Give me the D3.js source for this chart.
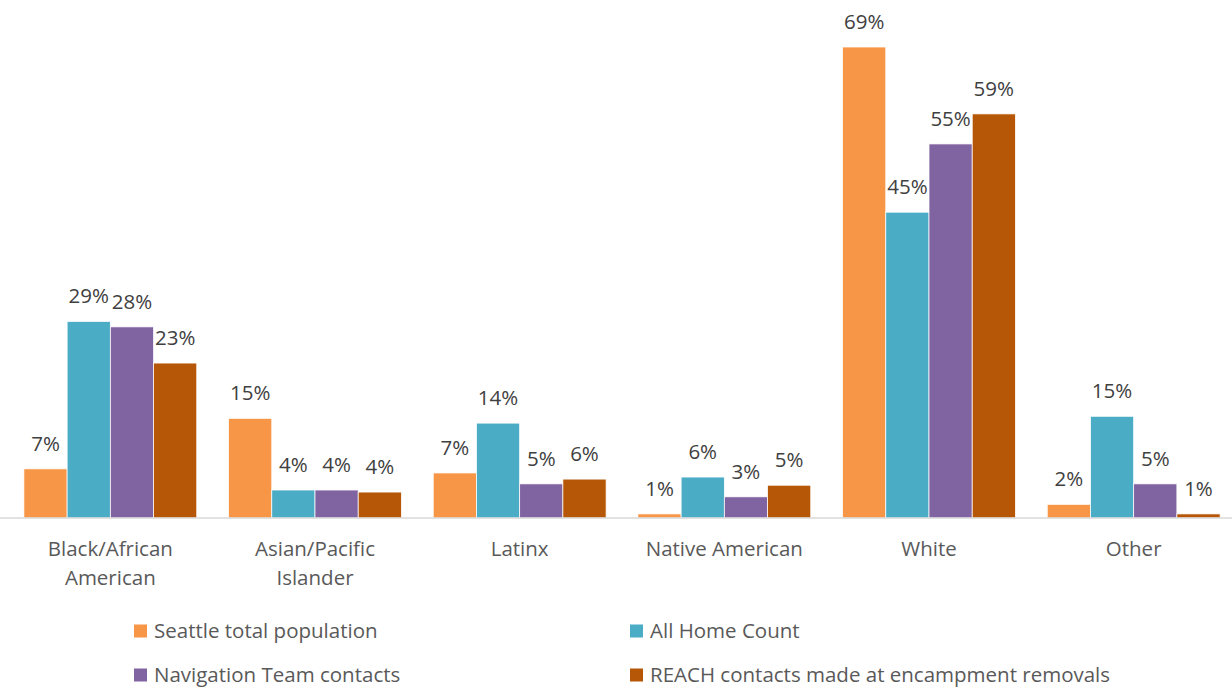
<!DOCTYPE html>
<html>
<head>
<meta charset="utf-8">
<script src="https://cdn.jsdelivr.net/npm/d3@7"></script>
<style>
  body { margin: 0; background: #fff; }
  text { font-family: "Open Sans", Lato, sans-serif; }
</style>
</head>
<body>
<svg id="chart" width="1232" height="688"></svg>
<script>
const categories = [["Black/African", "American"], ["Asian/Pacific", "Islander"], ["Latinx"], ["Native American"], ["White"], ["Other"]];
const seriesNames = ["Seattle total population", "All Home Count", "Navigation Team contacts", "REACH contacts made at encampment removals"];
const seattle = [7.2, 14.6, 6.6, 0.6, 69.0, 2.0];
const allHome = [28.8, 4.1, 13.9, 6.0, 44.8, 14.9];
const navTeam = [28.0, 4.1, 5.0, 3.1, 54.8, 5.0];
const reach = [22.7, 3.8, 5.7, 4.8, 59.2, 0.6];
const colors = ["#F79646", "#4BACC6", "#8064A2", "#B65708"];

const series = [seattle, allHome, navTeam, reach];
const svg = d3.select("#chart");
const baseY = 518;
const fs = 20.5;

const x0 = d3.scaleBand()
    .domain(d3.range(categories.length))
    .range([8, 1236])
    .padding(0);
const x1 = d3.scaleBand()
    .domain(d3.range(series.length))
    .range([0, x0.bandwidth()])
    .paddingInner(0)
    .paddingOuter(0.368);
const y = d3.scaleLinear().domain([0, 69]).range([baseY, 47]);

// bars + value labels
categories.forEach(function (cat, i) {
    const g = svg.append("g").attr("transform", "translate(" + x0(i) + ",0)");
    series.forEach(function (s, j) {
        g.append("rect")
            .attr("x", x1(j))
            .attr("y", y(s[i]))
            .attr("width", x1.bandwidth())
            .attr("height", baseY - y(s[i]))
            .attr("fill", colors[j])
            .attr("stroke", "#fff")
            .attr("stroke-width", 0.75);
        g.append("text")
            .attr("x", x1(j) + x1.bandwidth() / 2)
            .attr("y", y(s[i]) - 18)
            .attr("text-anchor", "middle")
            .attr("font-size", fs)
            .attr("fill", "#404040")
            .text(Math.round(s[i]) + "%");
    });
});

// axis line
svg.append("line")
    .attr("x1", 0).attr("x2", 1232)
    .attr("y1", baseY).attr("y2", baseY)
    .attr("stroke", "#D9D9D9")
    .attr("stroke-width", 1.5);

// category labels
categories.forEach(function (cat, i) {
    const cx = x0(i) + x0.bandwidth() / 2;
    const t = svg.append("text")
        .attr("x", cx)
        .attr("y", 556)
        .attr("text-anchor", "middle")
        .attr("font-size", fs)
        .attr("fill", "#595959");
    cat.forEach(function (line, k) {
        t.append("tspan")
            .attr("x", cx)
            .attr("dy", k === 0 ? 0 : 29)
            .text(line);
    });
});

// legend
const legX = [134, 630];
const legY = [631, 675];
seriesNames.forEach(function (name, j) {
    const lx = legX[j % 2], ly = legY[Math.floor(j / 2)];
    svg.append("rect")
        .attr("x", lx).attr("y", ly - 6.5)
        .attr("width", 13).attr("height", 13)
        .attr("fill", colors[j]);
    svg.append("text")
        .attr("x", lx + 20)
        .attr("y", ly + 6.5)
        .attr("font-size", fs)
        .attr("fill", "#595959")
        .text(name);
});
</script>
</body>
</html>
